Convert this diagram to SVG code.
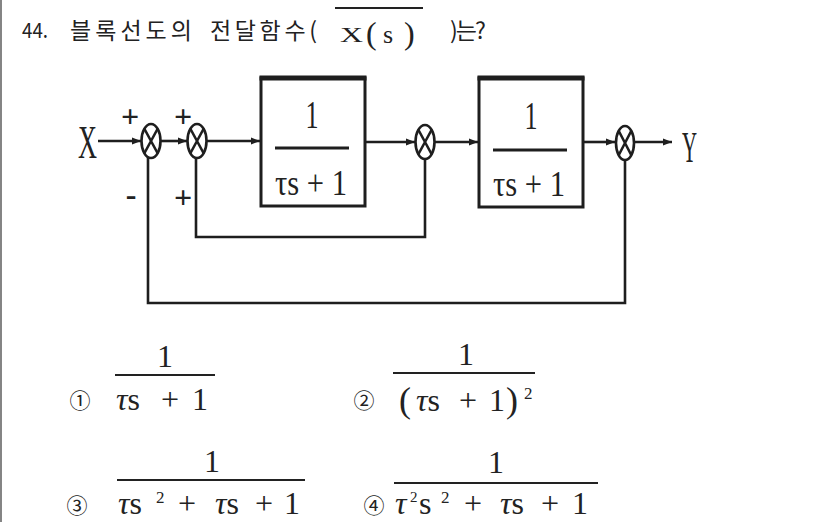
<svg xmlns="http://www.w3.org/2000/svg" width="826" height="522" viewBox="0 0 826 522">
<defs>
<style>
.k{font-family:"Noto Sans CJK KR","Liberation Sans",sans-serif;fill:#222}
.m{font-family:"Liberation Serif",serif;fill:#222}
.ln{stroke:#1e1e1e;stroke-width:2.6;fill:none}
.bx{stroke:#1e1e1e;stroke-width:3;fill:#fff}
.sj{stroke:#1e1e1e;stroke-width:2.6;fill:#fff}
.fr{stroke:#222;stroke-width:2}
.sg{font-family:"Liberation Serif",serif;font-size:32px;font-weight:bold;fill:#222}
.cn{font-family:"Noto Sans CJK KR","DejaVu Sans",sans-serif;font-size:21px;fill:#222}
</style>
<marker id="ar" markerWidth="9" markerHeight="8" refX="9" refY="4" orient="auto" markerUnits="userSpaceOnUse">
<path d="M0,0.5 L9,4 L0,7.5 z" fill="#1e1e1e"/>
</marker>
</defs>
<rect width="826" height="522" fill="#fff"/>
<line x1="1" y1="0" x2="1" y2="522" stroke="#666" stroke-width="1.6"/>

<g id="title">
<text class="k" x="22" y="38" font-size="21" textLength="26" lengthAdjust="spacingAndGlyphs">44.</text>
<text class="k" x="70" y="39" font-size="23" textLength="122" lengthAdjust="spacing">블록선도의</text>
<text class="k" x="210" y="39" font-size="23" textLength="107" lengthAdjust="spacing">전달함수(</text>
<line x1="335" y1="8" x2="423" y2="8" stroke="#222" stroke-width="2"/>
<text class="m" x="340" y="42" font-size="22" textLength="23" lengthAdjust="spacingAndGlyphs">X</text>
<text class="m" x="366" y="44" font-size="32" fill="#444">(</text>
<text class="m" x="383" y="43" font-size="26">s</text>
<text class="m" x="404" y="44" font-size="32" fill="#444">)</text>
<text class="k" x="450" y="39" font-size="23" textLength="36" lengthAdjust="spacing">)는?</text>
</g>

<g id="connectors">
<line class="ln" x1="98" y1="141" x2="141" y2="141" marker-end="url(#ar)"/>
<line class="ln" x1="160" y1="141" x2="187" y2="141" marker-end="url(#ar)"/>
<line class="ln" x1="207" y1="141" x2="260" y2="141" marker-end="url(#ar)"/>
<line class="ln" x1="366" y1="142" x2="415" y2="142" marker-end="url(#ar)"/>
<line class="ln" x1="435" y1="142" x2="478" y2="142" marker-end="url(#ar)"/>
<line class="ln" x1="583" y1="142" x2="615" y2="142" marker-end="url(#ar)"/>
<line class="ln" x1="635" y1="142" x2="672" y2="142" marker-end="url(#ar)"/>
<polyline class="ln" points="425,159 425,237 196,237 196,158"/>
<polyline class="ln" points="625,160 625,303 148,303 148,158" stroke-width="3"/>
</g>

<g id="X"><text class="m" x="78" y="158" font-size="46" textLength="19" lengthAdjust="spacingAndGlyphs">X</text></g>
<g id="Y"><text class="m" x="682" y="162" font-size="45" textLength="15" lengthAdjust="spacingAndGlyphs">Y</text></g>

<g id="sum1">
<ellipse class="sj" cx="151" cy="141" rx="9.5" ry="17"/>
<path class="ln" d="M144.5,129 L157.5,153 M157.5,129 L144.5,153" stroke-width="2"/>
</g>
<g id="sum2">
<ellipse class="sj" cx="197" cy="141" rx="9.5" ry="17"/>
<path class="ln" d="M190.5,129 L203.5,153 M203.5,129 L190.5,153" stroke-width="2"/>
</g>
<g id="sum3">
<ellipse class="sj" cx="425" cy="142" rx="9.5" ry="17"/>
<path class="ln" d="M418.5,130 L431.5,154 M431.5,130 L418.5,154" stroke-width="2"/>
</g>
<g id="sum4">
<ellipse class="sj" cx="625" cy="143" rx="9" ry="17"/>
<path class="ln" d="M618.8,131 L631.2,155 M631.2,131 L618.8,155" stroke-width="2"/>
</g>

<g id="signs">
<text class="sg" x="130" y="127" text-anchor="middle">+</text>
<text class="sg" x="183" y="127" text-anchor="middle">+</text>
<text class="sg" x="131" y="205" text-anchor="middle">-</text>
<text class="sg" x="183" y="208" text-anchor="middle">+</text>
</g>

<g id="block1">
<rect class="bx" x="261" y="78" width="104" height="128"/>
<line x1="259.5" y1="78" x2="366.5" y2="78" stroke="#1e1e1e" stroke-width="5"/>
<text class="m" x="312" y="128" font-size="40" text-anchor="middle" textLength="13" lengthAdjust="spacingAndGlyphs">1</text>
<line x1="275" y1="148" x2="349" y2="148" stroke="#1e1e1e" stroke-width="3"/>
<text class="m" x="275" y="195" font-size="36" textLength="72" lengthAdjust="spacingAndGlyphs">τs + 1</text>
</g>

<g id="block2">
<rect class="bx" x="479" y="78" width="104" height="129"/>
<line x1="477.5" y1="78" x2="584.5" y2="78" stroke="#1e1e1e" stroke-width="5"/>
<text class="m" x="531" y="129" font-size="40" text-anchor="middle" textLength="13" lengthAdjust="spacingAndGlyphs">1</text>
<line x1="493" y1="150" x2="567" y2="150" stroke="#1e1e1e" stroke-width="3"/>
<text class="m" x="493" y="196" font-size="36" textLength="72" lengthAdjust="spacingAndGlyphs">τs + 1</text>
</g>

<g id="answers">
<text class="cn" x="80" y="408" text-anchor="middle">①</text>
<text class="m" x="165" y="367" font-size="32" text-anchor="middle">1</text>
<line class="fr" x1="115" y1="375" x2="215" y2="375"/>
<text class="m" x="116" y="410" font-size="32"><tspan font-style="italic">τ</tspan>s</text>
<text class="m" x="170" y="410" font-size="32" text-anchor="middle">+</text>
<text class="m" x="200" y="410" font-size="32" text-anchor="middle">1</text>

<text class="cn" x="364" y="408" text-anchor="middle">②</text>
<text class="m" x="466" y="365" font-size="32" text-anchor="middle">1</text>
<line class="fr" x1="393" y1="373" x2="535" y2="373"/>
<text class="m" x="399" y="412" font-size="36" fill="#444">(</text>
<text class="m" x="416" y="411" font-size="32"><tspan font-style="italic">τ</tspan>s</text>
<text class="m" x="468" y="411" font-size="32" text-anchor="middle">+</text>
<text class="m" x="497" y="411" font-size="32" text-anchor="middle">1</text>
<text class="m" x="506" y="412" font-size="36" fill="#444">)</text>
<text class="m" x="524" y="399" font-size="17">2</text>

<text class="cn" x="77" y="513" text-anchor="middle">③</text>
<text class="m" x="212" y="472" font-size="32" text-anchor="middle">1</text>
<line class="fr" x1="117" y1="480" x2="305" y2="480"/>
<text class="m" x="118" y="514" font-size="32"><tspan font-style="italic">τ</tspan>s</text>
<text class="m" x="156" y="503" font-size="17">2</text>
<text class="m" x="187" y="514" font-size="32" text-anchor="middle">+</text>
<text class="m" x="215" y="514" font-size="32"><tspan font-style="italic">τ</tspan>s</text>
<text class="m" x="264" y="514" font-size="32" text-anchor="middle">+</text>
<text class="m" x="292" y="514" font-size="32" text-anchor="middle">1</text>

<text class="cn" x="374" y="513" text-anchor="middle">④</text>
<text class="m" x="496" y="473" font-size="32" text-anchor="middle">1</text>
<line class="fr" x1="394" y1="483" x2="598" y2="483"/>
<text class="m" x="395" y="514" font-size="32" font-style="italic">τ</text>
<text class="m" x="410" y="502" font-size="15">2</text>
<text class="m" x="419" y="514" font-size="32">s</text>
<text class="m" x="441" y="503" font-size="17">2</text>
<text class="m" x="473" y="514" font-size="32" text-anchor="middle">+</text>
<text class="m" x="500" y="514" font-size="32"><tspan font-style="italic">τ</tspan>s</text>
<text class="m" x="550" y="514" font-size="32" text-anchor="middle">+</text>
<text class="m" x="580" y="514" font-size="32" text-anchor="middle">1</text>
</g>
</svg>
